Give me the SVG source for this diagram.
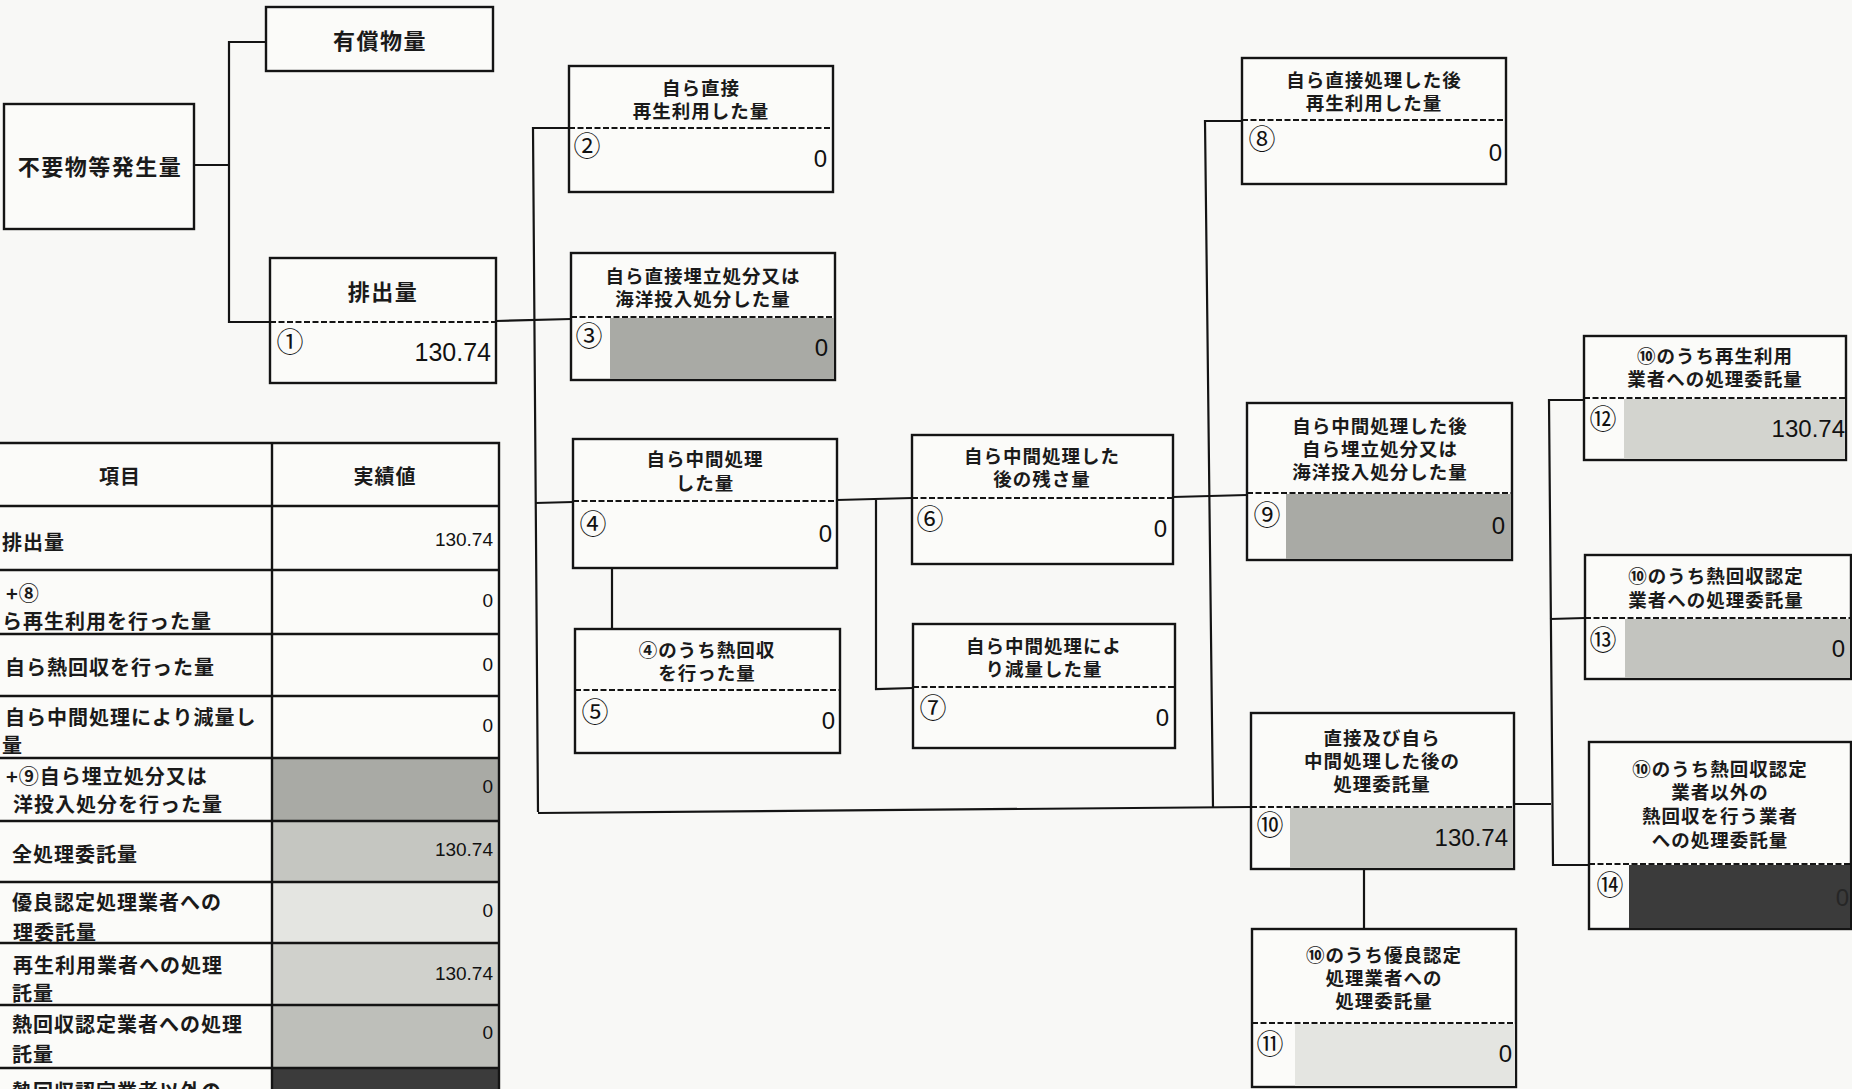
<svg xmlns="http://www.w3.org/2000/svg" width="1852" height="1089" viewBox="0 0 1852 1089">
<style>
.bg{fill:#f8f8f6}
.box{fill:#fbfbf9;stroke:#141414;stroke-width:2.4}
.dash{stroke:#141414;stroke-width:2;stroke-dasharray:6 2.5;fill:none}
.ln{stroke:#141414;stroke-width:2.2;fill:none}
.lb{font-family:"Noto Sans CJK JP","Noto Sans CJK SC",sans-serif;font-size:18.5px;font-weight:700;letter-spacing:1px;text-anchor:middle;dominant-baseline:central;fill:#1a1a1a}
.big{font-family:"Noto Sans CJK JP","Noto Sans CJK SC",sans-serif;font-size:22px;font-weight:700;letter-spacing:1.5px;text-anchor:middle;dominant-baseline:central;fill:#1a1a1a}
.cn{font-family:"Noto Sans CJK JP","Noto Sans CJK SC",sans-serif;font-size:27px;text-anchor:middle;dominant-baseline:central;fill:#111}
.v{font-family:"Liberation Sans",Arial,sans-serif;font-size:24px;text-anchor:end;dominant-baseline:central;fill:#111}
.tv{font-family:"Liberation Sans",Arial,sans-serif;font-size:19px;text-anchor:end;dominant-baseline:central;fill:#111}
.tt{font-family:"Noto Sans CJK JP","Noto Sans CJK SC",sans-serif;font-size:20px;font-weight:700;letter-spacing:1px;dominant-baseline:central;fill:#1a1a1a}
.th{font-family:"Noto Sans CJK JP","Noto Sans CJK SC",sans-serif;font-size:20px;font-weight:700;letter-spacing:1px;text-anchor:middle;dominant-baseline:central;fill:#1a1a1a}
.tl{stroke:#141414;stroke-width:2.4;fill:none}
</style>
<rect class="bg" x="0" y="0" width="1852" height="1089"/>

<g id="connectors">
<polyline class="ln" points="194,165 229,165"/>
<polyline class="ln" points="266,42 229,42 229,322 270,322"/>
<polyline class="ln" points="496,321 571,319"/>
<polyline class="ln" points="569,128 533,128 538,812"/>
<polyline class="ln" points="535,503 573,502"/>
<polyline class="ln" points="837,500 912,498"/>
<polyline class="ln" points="612,568 612,629"/>
<polyline class="ln" points="876,500 876,689 913,688"/>
<polyline class="ln" points="1173,497 1247,495"/>
<polyline class="ln" points="1242,121 1205,121 1213,808"/>
<polyline class="ln" points="538,813 1251,807"/>
<polyline class="ln" points="1514,804 1551,804"/>
<polyline class="ln" points="1584,400 1549,400 1553,865 1589,865"/>
<polyline class="ln" points="1550,619 1585,618"/>
<polyline class="ln" points="1364,869 1364,929"/>
</g>

<g id="n-fuyou">
<rect class="box" x="4" y="104" width="190" height="125"/>
<text class="big" x="100" y="165">不要物等発生量</text>
</g>

<g id="n-yushou">
<rect class="box" x="266" y="7" width="227" height="64"/>
<text class="big" x="380" y="39">有償物量</text>
</g>

<g id="n1">
<rect class="box" x="270" y="258" width="226" height="125"/>
<line class="dash" x1="270" y1="322" x2="496" y2="322"/>
<text class="big" x="383" y="290">排出量</text>
<text class="cn" x="290" y="340">①</text>
<text class="v" x="491" y="352" style="font-size:25px">130.74</text>
</g>

<g id="n2">
<rect class="box" x="569" y="66" width="264" height="126"/>
<line class="dash" x1="569" y1="128" x2="833" y2="128"/>
<text class="lb" x="701" y="87">自ら直接</text>
<text class="lb" x="701" y="110">再生利用した量</text>
<text class="cn" x="587" y="144">②</text>
<text class="v" x="827" y="158">0</text>
</g>

<g id="n3">
<rect class="box" x="571" y="253" width="264" height="127"/>
<rect x="610" y="318" width="224" height="61" fill="#a9aaa5"/>
<line class="dash" x1="571" y1="317" x2="835" y2="317"/>
<text class="lb" x="703" y="275">自ら直接埋立処分又は</text>
<text class="lb" x="703" y="298">海洋投入処分した量</text>
<text class="cn" x="589" y="334">③</text>
<text class="v" x="828" y="347">0</text>
</g>

<g id="n4">
<rect class="box" x="573" y="439" width="264" height="129"/>
<line class="dash" x1="573" y1="501" x2="837" y2="501"/>
<text class="lb" x="705" y="458">自ら中間処理</text>
<text class="lb" x="705" y="482">した量</text>
<text class="cn" x="593" y="522">④</text>
<text class="v" x="832" y="533">0</text>
</g>

<g id="n5">
<rect class="box" x="575" y="629" width="265" height="124"/>
<line class="dash" x1="575" y1="690" x2="840" y2="690"/>
<text class="lb" x="707" y="649">④のうち熱回収</text>
<text class="lb" x="707" y="672">を行った量</text>
<text class="cn" x="595" y="710">⑤</text>
<text class="v" x="835" y="720">0</text>
</g>

<g id="n6">
<rect class="box" x="912" y="435" width="261" height="129"/>
<line class="dash" x1="912" y1="498" x2="1173" y2="498"/>
<text class="lb" x="1042" y="455">自ら中間処理した</text>
<text class="lb" x="1042" y="478">後の残さ量</text>
<text class="cn" x="930" y="517">⑥</text>
<text class="v" x="1167" y="528">0</text>
</g>

<g id="n7">
<rect class="box" x="913" y="624" width="262" height="124"/>
<line class="dash" x1="913" y1="687" x2="1175" y2="687"/>
<text class="lb" x="1044" y="645">自ら中間処理によ</text>
<text class="lb" x="1044" y="668">り減量した量</text>
<text class="cn" x="933" y="706">⑦</text>
<text class="v" x="1169" y="717">0</text>
</g>

<g id="n8">
<rect class="box" x="1242" y="58" width="264" height="126"/>
<line class="dash" x1="1242" y1="120" x2="1506" y2="120"/>
<text class="lb" x="1374" y="79">自ら直接処理した後</text>
<text class="lb" x="1374" y="102">再生利用した量</text>
<text class="cn" x="1262" y="137">⑧</text>
<text class="v" x="1502" y="152">0</text>
</g>

<g id="n9">
<rect class="box" x="1247" y="403" width="265" height="157"/>
<rect x="1286" y="494" width="225" height="65" fill="#a9aaa5"/>
<line class="dash" x1="1247" y1="493" x2="1512" y2="493"/>
<text class="lb" x="1380" y="425">自ら中間処理した後</text>
<text class="lb" x="1380" y="448">自ら埋立処分又は</text>
<text class="lb" x="1380" y="471">海洋投入処分した量</text>
<text class="cn" x="1267" y="513">⑨</text>
<text class="v" x="1505" y="525">0</text>
</g>

<g id="n10">
<rect class="box" x="1251" y="713" width="263" height="156"/>
<rect x="1290" y="808" width="223" height="60" fill="#c5c6c1"/>
<line class="dash" x1="1251" y1="807" x2="1514" y2="807"/>
<text class="lb" x="1382" y="737">直接及び自ら</text>
<text class="lb" x="1382" y="760">中間処理した後の</text>
<text class="lb" x="1382" y="783">処理委託量</text>
<text class="cn" x="1270" y="823">⑩</text>
<text class="v" x="1508" y="837">130.74</text>
</g>

<g id="n11">
<rect class="box" x="1252" y="929" width="264" height="158"/>
<rect x="1295" y="1024" width="220" height="62" fill="#e4e5e1"/>
<line class="dash" x1="1252" y1="1023" x2="1516" y2="1023"/>
<text class="lb" x="1384" y="954">⑩のうち優良認定</text>
<text class="lb" x="1384" y="977">処理業者への</text>
<text class="lb" x="1384" y="1000">処理委託量</text>
<text class="cn" x="1270" y="1042">⑪</text>
<text class="v" x="1512" y="1053">0</text>
</g>

<g id="n12">
<rect class="box" x="1584" y="336" width="262" height="124"/>
<rect x="1624" y="399" width="221" height="60" fill="#d3d4cf"/>
<line class="dash" x1="1584" y1="398" x2="1846" y2="398"/>
<text class="lb" x="1715" y="355">⑩のうち再生利用</text>
<text class="lb" x="1715" y="378">業者への処理委託量</text>
<text class="cn" x="1603" y="417">⑫</text>
<text class="v" x="1845" y="428">130.74</text>
</g>

<g id="n13">
<rect class="box" x="1585" y="555" width="266" height="124"/>
<rect x="1625" y="619" width="225" height="59" fill="#c3c4bf"/>
<line class="dash" x1="1585" y1="618" x2="1851" y2="618"/>
<text class="lb" x="1716" y="575">⑩のうち熱回収認定</text>
<text class="lb" x="1716" y="599">業者への処理委託量</text>
<text class="cn" x="1603" y="638">⑬</text>
<text class="v" x="1845" y="648">0</text>
</g>

<g id="n14">
<rect class="box" x="1589" y="742" width="262" height="187"/>
<rect x="1629" y="865" width="221" height="63" fill="#3b3b3b"/>
<line class="dash" x1="1589" y1="864" x2="1851" y2="864"/>
<text class="lb" x="1720" y="768">⑩のうち熱回収認定</text>
<text class="lb" x="1720" y="791">業者以外の</text>
<text class="lb" x="1720" y="815">熱回収を行う業者</text>
<text class="lb" x="1720" y="839">への処理委託量</text>
<text class="cn" x="1610" y="883">⑭</text>
<text class="v" x="1849" y="897" style="fill:#262626">0</text>
</g>

<g id="table">
<rect x="-4" y="443" width="503" height="646" fill="#fbfbf9"/>
<rect x="272" y="758" width="227" height="63" fill="#a9aaa5"/>
<rect x="272" y="821" width="227" height="61" fill="#c5c6c1"/>
<rect x="272" y="882" width="227" height="61" fill="#e4e5e1"/>
<rect x="272" y="943" width="227" height="62" fill="#d0d1cc"/>
<rect x="272" y="1005" width="227" height="63" fill="#bebfba"/>
<rect x="272" y="1068" width="227" height="30" fill="#3b3b3b"/>
<polyline class="tl" points="-4,443 499,443 499,1089"/>
<line class="tl" x1="272" y1="443" x2="272" y2="1089"/>
<line class="tl" x1="-4" y1="506" x2="499" y2="506"/>
<line class="tl" x1="-4" y1="570" x2="499" y2="570"/>
<line class="tl" x1="-4" y1="634" x2="499" y2="634"/>
<line class="tl" x1="-4" y1="696" x2="499" y2="696"/>
<line class="tl" x1="-4" y1="758" x2="499" y2="758"/>
<line class="tl" x1="-4" y1="821" x2="499" y2="821"/>
<line class="tl" x1="-4" y1="882" x2="499" y2="882"/>
<line class="tl" x1="-4" y1="943" x2="499" y2="943"/>
<line class="tl" x1="-4" y1="1005" x2="499" y2="1005"/>
<line class="tl" x1="-4" y1="1068" x2="499" y2="1068"/>
<text class="th" x="120" y="475">項目</text>
<text class="th" x="385" y="475">実績値</text>
<text class="tt" x="2" y="541">排出量</text>
<text class="tv" x="493" y="539">130.74</text>
<text class="tt" x="6" y="592">+⑧</text>
<text class="tt" x="2" y="620">ら再生利用を行った量</text>
<text class="tv" x="493" y="600">0</text>
<text class="tt" x="5" y="666">自ら熱回収を行った量</text>
<text class="tv" x="493" y="664">0</text>
<text class="tt" x="5" y="716">自ら中間処理により減量し</text>
<text class="tt" x="2" y="744">量</text>
<text class="tv" x="493" y="725">0</text>
<text class="tt" x="6" y="775">+⑨自ら埋立処分又は</text>
<text class="tt" x="13" y="803">洋投入処分を行った量</text>
<text class="tv" x="493" y="786">0</text>
<text class="tt" x="12" y="853">全処理委託量</text>
<text class="tv" x="493" y="849">130.74</text>
<text class="tt" x="12" y="901">優良認定処理業者への</text>
<text class="tt" x="13" y="931">理委託量</text>
<text class="tv" x="493" y="910">0</text>
<text class="tt" x="13" y="964">再生利用業者への処理</text>
<text class="tt" x="12" y="992">託量</text>
<text class="tv" x="493" y="973">130.74</text>
<text class="tt" x="12" y="1023">熱回収認定業者への処理</text>
<text class="tt" x="12" y="1053">託量</text>
<text class="tv" x="493" y="1032">0</text>
<text class="tt" x="12" y="1090">熱回収認定業者以外の</text>
</g>
</svg>
